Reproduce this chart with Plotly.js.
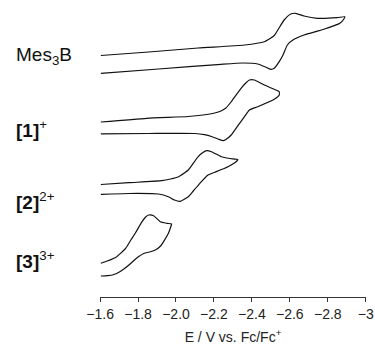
<!DOCTYPE html>
<html>
<head>
<meta charset="utf-8">
<script src="https://cdn.plot.ly/plotly-3.0.1.min.js"></script>
<style>html,body{margin:0;padding:0;background:#fff;}#chart{width:375px;height:345px;}</style>
</head>
<body>
<div id="chart"></div>
<script>
// Potential (V vs Fc/Fc+) and current (arbitrary units, stacked) for each voltammogram
const mes3bE = [-1.604,-1.856,-2.117,-2.361,-2.466,-2.483,-2.518,-2.540,-2.570,-2.605,-2.631,-2.675,-2.744,-2.849,-2.890,
  -2.885,-2.864,-2.779,-2.675,-2.622,-2.587,-2.564,-2.544,-2.518,-2.499,-2.472,-2.431,-2.352,-2.237,-1.908,-1.604];
const mes3bI = [241.5,245,249,252,255.3,257,261.5,268,277,283,283.7,281,278.7,279.3,280.3,
  278,273.7,267.7,262,257.7,252,242,235.3,228.7,227.7,230,233,234,232.7,228,223.7];

const c1E = [-1.604,-1.846,-2.065,-2.143,-2.204,-2.237,-2.263,-2.290,-2.343,-2.368,-2.387,-2.413,-2.466,-2.518,-2.544,
  -2.544,-2.518,-2.431,-2.387,-2.361,-2.335,-2.291,-2.263,-2.248,-2.222,-2.190,-2.150,-2.100,-1.856,-1.604];
const c1I = [175,178.7,180.5,182,184,186,189,195,208.7,214,217,217,212,207.7,205.3,
  202,197.7,190.3,187,180.3,173.7,162,157.5,156.3,158,160.3,162.3,163.5,163.5,163.2];

const c2E = [-1.604,-1.752,-1.925,-1.971,-2.013,-2.044,-2.065,-2.117,-2.138,-2.161,-2.187,-2.239,-2.284,-2.326,
  -2.321,-2.274,-2.204,-2.169,-2.126,-2.091,-2.065,-2.022,-1.992,-1.960,-1.908,-1.752,-1.604];
const c2I = [112.5,114.3,116.3,118,120.3,124,127,140.3,144,146.3,145.3,140.3,138.5,137.5,
  136,130.3,124.7,122,113.7,106,100.3,95.7,97,100.3,103,103.5,102.7];

const c3E = [-1.604,-1.682,-1.734,-1.762,-1.786,-1.821,-1.840,-1.856,-1.882,-1.917,-1.952,-1.977,
  -1.974,-1.960,-1.943,-1.919,-1.891,-1.865,-1.830,-1.804,-1.778,-1.752,-1.725,-1.699,-1.673,-1.640,-1.604];
const c3I = [33.7,39.5,48.5,57,64,75.3,80,82,81.3,75.3,73.7,73,
  71,63.7,58,51,47,45.3,43.5,40.5,36.5,32,28,24.8,22.5,21.3,21];

const labels = ['Mes<sub>3</sub>B','<b>[1]</b><sup>+</sup>','<b>[2]</b><sup>2+</sup>','<b>[3]</b><sup>3+</sup>'];
const labelLevels = [241,168,96,37];

const tickVals = [-1.6,-1.8,-2.0,-2.2,-2.4,-2.6,-2.8,-3.0];
const tickText = ['\u22121.6','\u22121.8','\u22122.0','\u22122.2','\u22122.4','\u22122.6','\u22122.8','\u22123'];

const series = [[mes3bE,mes3bI],[c1E,c1I],[c2E,c2I],[c3E,c3I]];
const traces = series.map(s => ({
  x: s[0], y: s[1], type: 'scatter', mode: 'lines',
  line: {color: '#111', width: 1.2, shape: 'spline', smoothing: 0.5},
  hoverinfo: 'skip', showlegend: false, cliponaxis: false
}));

const annotations = labels.map((t, k) => ({
  text: t, xref: 'paper', yref: 'y', x: -0.325, y: labelLevels[k],
  xanchor: 'left', yanchor: 'middle', showarrow: false,
  font: {family: 'Liberation Sans, Arial, sans-serif', size: 19, color: '#111'}
}));

const layout = {
  width: 375, height: 345,
  margin: {l: 100, r: 9, t: 0, b: 48},
  paper_bgcolor: '#fff', plot_bgcolor: '#fff',
  font: {family: 'Liberation Sans, Arial, sans-serif', color: '#222', size: 14},
  xaxis: {
    range: [-1.5995, -3.0015], tickvals: tickVals, ticktext: tickText,
    ticklabeloverflow: 'allow', automargin: false,
    showline: true, linecolor: '#333', linewidth: 1, ticks: 'outside', ticklen: 4, tickcolor: '#333',
    showgrid: false, zeroline: false,
    tickfont: {size: 14, color: '#222'},
    title: {text: 'E / V vs. Fc/Fc<sup>+</sup>', font: {size: 14, color: '#222'}, standoff: 13}
  },
  yaxis: {range: [0, 297], visible: false, showgrid: false, zeroline: false, fixedrange: true},
  annotations: annotations
};

Plotly.newPlot('chart', traces, layout, {staticPlot: true, displayModeBar: false});
</script>
</body>
</html>
